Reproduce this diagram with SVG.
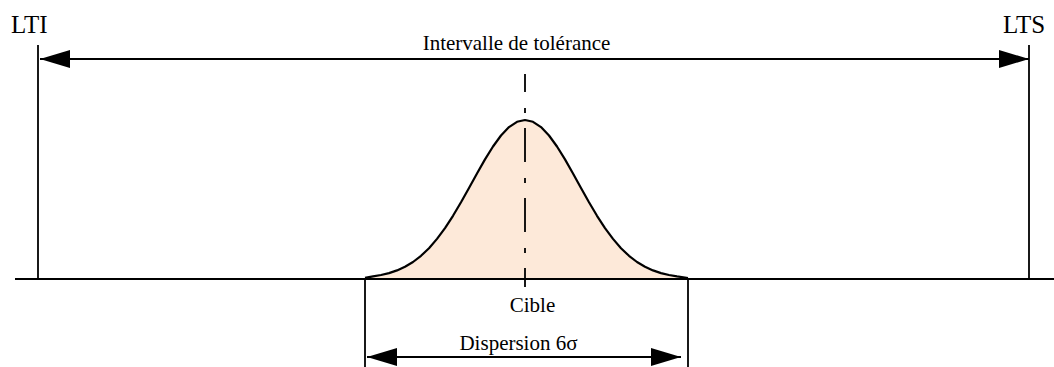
<svg xmlns="http://www.w3.org/2000/svg" width="1054" height="367" viewBox="0 0 1054 367">
<style>
text{font-family:"Liberation Serif","Times New Roman",serif;fill:#000}
.big{font-size:25px}
.lbl{font-size:21px}
.ln{stroke:#000;fill:none}
</style>
<defs>
<marker id="ah" viewBox="0 0 30 18" refX="30" refY="9" markerWidth="30" markerHeight="18" markerUnits="userSpaceOnUse" orient="auto-start-reverse">
<path d="M0,0 L30,9 L0,18 Z" fill="#000"/>
</marker>
</defs>
<rect width="1054" height="367" fill="#fff"/>
<g id="curve">
<path d="M365,279 L365,277.3 L373,276.4 L381,275 L389,273.1 L397,270.4 L405,266.7 L413,262 L421,255.8 L429,248.2 L437,238.9 L445,228.1 L453,215.8 L461,202.3 L469,188 L477,173.5 L485,159.4 L493,146.5 L501,135.5 L509,127.1 L517,121.8 L525,120 L533,121.8 L541,127.1 L549,135.5 L557,146.5 L565,159.4 L573,173.5 L581,188 L589,202.3 L597,215.8 L605,228.1 L613,238.9 L621,248.2 L629,255.8 L637,262 L645,266.7 L653,270.4 L661,273.1 L669,275 L677,276.4 L685,277.3 L688,279 Z" fill="#FDE9D9" stroke="none"/>
<path d="M365,277.8 L373,276.4 L381,275 L389,273.1 L397,270.4 L405,266.7 L413,262 L421,255.8 L429,248.2 L437,238.9 L445,228.1 L453,215.8 L461,202.3 L469,188 L477,173.5 L485,159.4 L493,146.5 L501,135.5 L509,127.1 L517,121.8 L525,120 L533,121.8 L541,127.1 L549,135.5 L557,146.5 L565,159.4 L573,173.5 L581,188 L589,202.3 L597,215.8 L605,228.1 L613,238.9 L621,248.2 L629,255.8 L637,262 L645,266.7 L653,270.4 L661,273.1 L669,275 L677,276.4 L688,278" class="ln" stroke-width="2.2" stroke-linejoin="round"/>
</g>
<g id="axes">
<line x1="15" y1="279" x2="1054" y2="279" class="ln" stroke-width="2.2"/>
<line x1="38" y1="45" x2="38" y2="280" class="ln" stroke-width="1.8"/>
<line x1="1029" y1="45" x2="1029" y2="280" class="ln" stroke-width="1.8"/>
<line x1="365" y1="279" x2="365" y2="367" class="ln" stroke-width="1.8"/>
<line x1="688" y1="279" x2="688" y2="367" class="ln" stroke-width="1.8"/>
<line x1="525" y1="74" x2="525" y2="287" class="ln" stroke-width="1.8" stroke-dasharray="34 16 5 15" stroke-dashoffset="16"/>
</g>
<g id="connectors">
<line x1="40" y1="59" x2="1029" y2="59" class="ln" stroke-width="2" marker-start="url(#ah)" marker-end="url(#ah)"/>
<line x1="367" y1="357" x2="681" y2="357" class="ln" stroke-width="2" marker-start="url(#ah)" marker-end="url(#ah)"/>
</g>
<g id="labels">
<text class="big" x="11" y="33">LTI</text>
<text class="big" x="1003" y="33">LTS</text>
<text class="lbl" x="516.5" y="50" text-anchor="middle">Intervalle de tolérance</text>
<text class="lbl" x="532.5" y="312" text-anchor="middle">Cible</text>
<text class="lbl" x="518.5" y="350" text-anchor="middle">Dispersion 6σ</text>
</g>
</svg>
